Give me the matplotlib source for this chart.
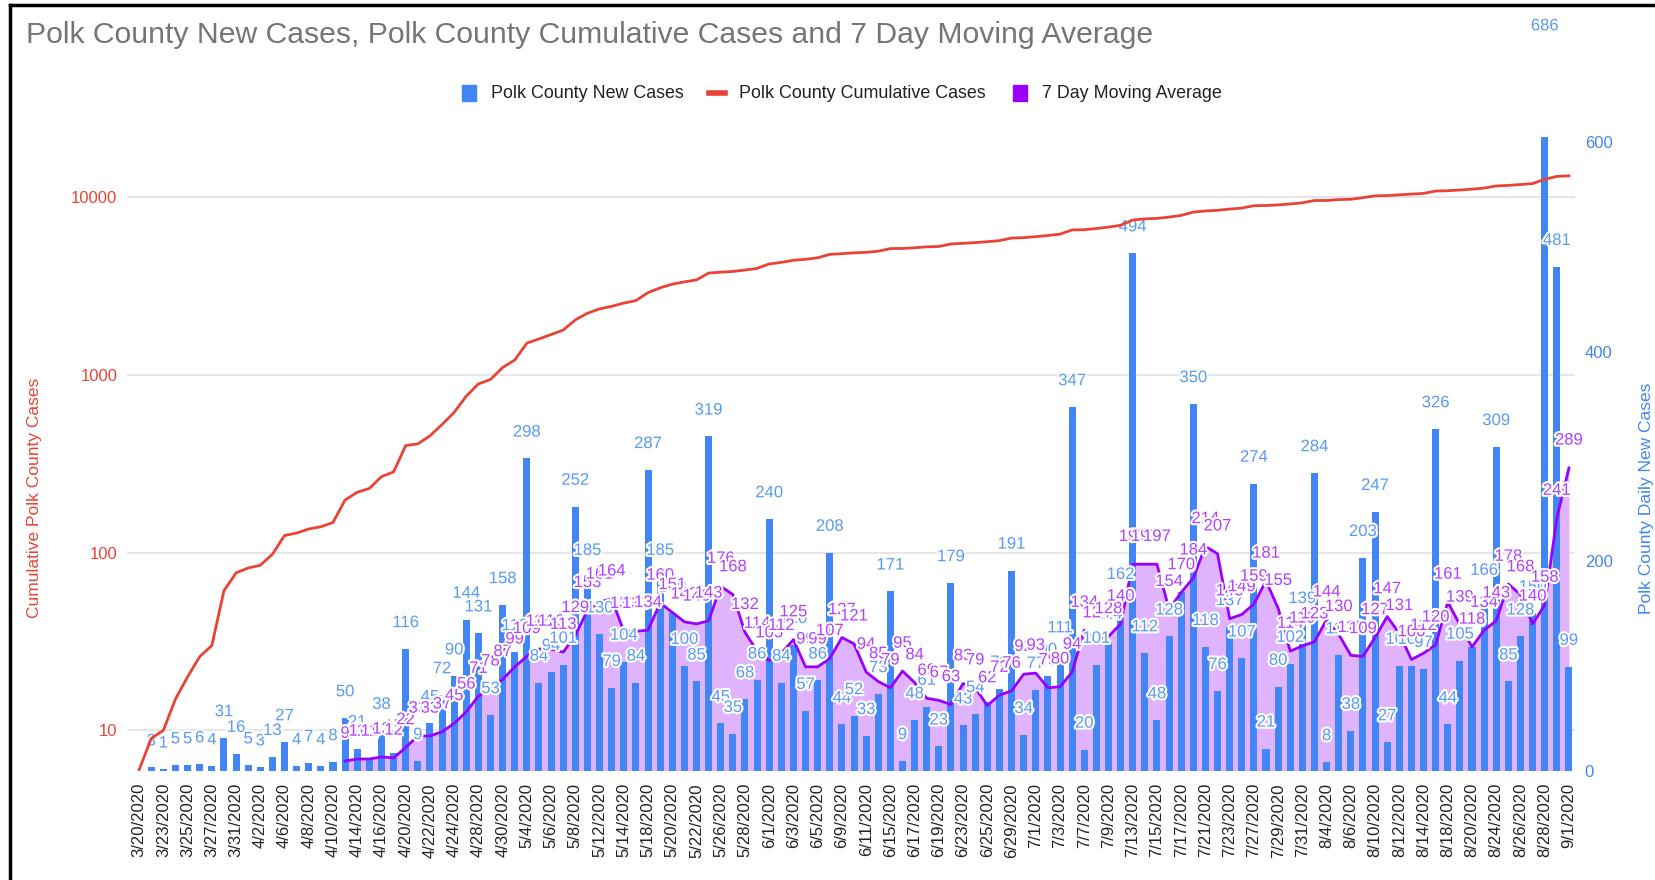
import numpy as np
import matplotlib
matplotlib.use('Agg')
import matplotlib.pyplot as plt
import matplotlib.patheffects as pe
from matplotlib.patches import Rectangle
from matplotlib.lines import Line2D
from matplotlib.ticker import NullLocator

plt.rcParams['font.family'] = ['Liberation Sans', 'DejaVu Sans']

# one tick label for every second reporting day
tick_labels = ['3/20/2020', '3/23/2020', '3/25/2020', '3/27/2020', '3/31/2020', '4/2/2020',
               '4/6/2020', '4/8/2020', '4/10/2020', '4/14/2020', '4/16/2020', '4/20/2020',
               '4/22/2020', '4/24/2020', '4/28/2020', '4/30/2020', '5/4/2020', '5/6/2020',
               '5/8/2020', '5/12/2020', '5/14/2020', '5/18/2020', '5/20/2020', '5/22/2020',
               '5/26/2020', '5/28/2020', '6/1/2020', '6/3/2020', '6/5/2020', '6/9/2020',
               '6/11/2020', '6/15/2020', '6/17/2020', '6/19/2020', '6/23/2020', '6/25/2020',
               '6/29/2020', '7/1/2020', '7/3/2020', '7/7/2020', '7/9/2020', '7/13/2020',
               '7/15/2020', '7/17/2020', '7/21/2020', '7/23/2020', '7/27/2020', '7/29/2020',
               '7/31/2020', '8/4/2020', '8/6/2020', '8/10/2020', '8/12/2020', '8/14/2020',
               '8/18/2020', '8/20/2020', '8/24/2020', '8/26/2020', '8/28/2020', '9/1/2020']

new_cases = [None, 3, 1, 5, 5, 6, 4, 31, 16, 5,
             3, 13, 27, 4, 7, 4, 8, 50, 21, 11,
             38, 17, 116, 9, 45, 72, 90, 144, 131, 53,
             158, 113, 298, 84, 94, 101, 252, 185, 130, 79,
             104, 84, 287, 185, 150, 100, 85, 319, 45, 35,
             68, 86, 240, 84, 120, 57, 86, 208, 44, 52,
             33, 73, 171, 9, 48, 61, 23, 179, 43, 54,
             65, 78, 191, 34, 77, 90, 111, 347, 20, 101,
             124, 162, 494, 112, 48, 128, 170, 350, 118, 76,
             137, 107, 274, 21, 80, 102, 139, 284, 8, 110,
             38, 203, 247, 27, 100, 100, 97, 326, 44, 105,
             118, 166, 309, 85, 128, 150, 686, 481, 99]

cumulative = [6, 9, 10, 15, 20, 26, 30, 61, 77, 82,
              85, 98, 125, 129, 136, 140, 148, 198, 219, 230,
              268, 285, 401, 410, 455, 527, 617, 761, 892, 945,
              1103, 1216, 1514, 1598, 1692, 1793, 2045, 2230, 2360, 2439,
              2543, 2627, 2914, 3099, 3249, 3349, 3434, 3753, 3798, 3833,
              3901, 3987, 4227, 4311, 4431, 4488, 4574, 4782, 4826, 4878,
              4911, 4984, 5155, 5164, 5212, 5273, 5296, 5475, 5518, 5572,
              5637, 5715, 5906, 5940, 6017, 6107, 6218, 6565, 6585, 6686,
              6810, 6972, 7466, 7578, 7626, 7754, 7924, 8274, 8392, 8468,
              8605, 8712, 8986, 9007, 9087, 9189, 9328, 9612, 9620, 9730,
              9768, 9971, 10218, 10245, 10345, 10445, 10542, 10868, 10912, 11017,
              11135, 11301, 11610, 11695, 11823, 11973, 12659, 13140, 13239]

# 7 day moving average starts on the 18th reporting day
ma_start = 17
moving_avg = [9, 11, 11, 13, 12, 22, 33, 33, 37, 45,
              56, 71, 78, 87, 99, 109, 116, 116, 113, 129,
              153, 161, 164, 133, 133, 134, 160, 151, 142, 140,
              143, 176, 168, 132, 114, 105, 112, 125, 99, 99,
              107, 127, 121, 94, 85, 79, 95, 84, 69, 67,
              63, 83, 79, 62, 72, 76, 92, 93, 79, 80,
              94, 134, 124, 128, 140, 197, 197, 197, 154, 170,
              184, 214, 207, 145, 149, 159, 181, 155, 114, 119,
              123, 144, 130, 110, 109, 127, 147, 131, 106, 112,
              120, 161, 139, 118, 134, 143, 178, 168, 140, 158,
              241, 289]

BLUE = '#4285f4'
RED = '#ea4335'
PURPLE = '#9900ff'
FILL = '#e0b3ff'

W, H = 1655, 880
fig = plt.figure(figsize=(W / 100, H / 100), dpi=100)
left, right, top, bottom = 127, 1575, 137, 770.5
ax = fig.add_axes([left / W, 1 - bottom / H, (right - left) / W, (bottom - top) / H])

x = np.arange(len(new_cases))
vals = np.array([np.nan if v is None else v for v in new_cases], dtype=float)
x_ma = np.arange(ma_start, ma_start + len(moving_avg))
ma = np.array(moving_avg, dtype=float)

ax.set_xlim(-1.0, len(x) - 0.5)
ax.set_ylim(0, 605)

# log gridlines of the left axis, drawn behind the bars
lo, hi = 5.94, 21900
for g in [10, 100, 1000, 10000]:
    fy = (np.log10(g) - np.log10(lo)) / (np.log10(hi) - np.log10(lo))
    ax.plot([0, 1], [fy, fy], transform=ax.transAxes, color='#e2e2e2', lw=1.2, zorder=0)

ax.fill_between(x_ma, 0, ma, color=FILL, lw=0, zorder=1)
ax.bar(x, np.nan_to_num(vals), width=0.58, color=BLUE, zorder=2)
ax.plot(x_ma, ma, color=PURPLE, lw=2, zorder=3)

halo = [pe.withStroke(linewidth=3, foreground='white')]
for xi, v in zip(x, vals):
    if np.isnan(v):
        continue
    ax.annotate(f'{int(v)}', (xi, v), xytext=(0, 19), textcoords='offset points',
                ha='center', va='center', fontsize=12, color='#5a9af5',
                path_effects=halo, zorder=6, annotation_clip=False)
for xi, v in zip(x_ma, ma):
    ax.annotate(f'{int(v)}', (xi, v), xytext=(0, 20), textcoords='offset points',
                ha='center', va='center', fontsize=12, color='#b340ff',
                path_effects=halo, zorder=7, annotation_clip=False)

ax.set_xticks(x[::2])
ax.set_xticklabels(tick_labels, rotation=90, fontsize=12, color='#222222')
ax.tick_params(axis='x', length=0, pad=9)

# cumulative on a log scale, left side
axc = ax.twinx()
axc.set_yscale('log')
axc.set_ylim(lo, hi)
axc.plot(x, cumulative, color=RED, lw=2, zorder=4)
axc.yaxis.set_minor_locator(NullLocator())
axc.set_yticks([10, 100, 1000, 10000])
axc.set_yticklabels(['10', '100', '1000', '10000'], color=RED, fontsize=12)
axc.yaxis.tick_left()
axc.tick_params(axis='y', length=0, pad=7)

ax.yaxis.tick_right()
ax.set_yticks([0, 200, 400, 600])
ax.set_yticklabels(['0', '200', '400', '600'], color=BLUE, fontsize=12)
ax.tick_params(axis='y', length=0, pad=7)

for a in (ax, axc):
    for s in a.spines.values():
        s.set_visible(False)

fig.text(35 / W, 1 - 498 / H, 'Cumulative Polk County Cases', rotation=90, color=RED,
         fontsize=12.5, ha='center', va='center')
fig.text(1646 / W, 1 - 498 / H, 'Polk County Daily New Cases', rotation=90, color=BLUE,
         fontsize=12.5, ha='center', va='center')

fig.text(26 / W, 1 - 35 / H, 'Polk County New Cases, Polk County Cumulative Cases and 7 Day Moving Average',
         color='#757575', fontsize=21.7, ha='left', va='center')

# legend drawn by hand
ly = 1 - 93 / H
fs_leg = 12.9
fig.patches.append(Rectangle(((469 - 7) / W, ly - 8 / H), 14 / W, 16 / H, color=BLUE, transform=fig.transFigure))
fig.text(491 / W, ly, 'Polk County New Cases', fontsize=fs_leg, color='#222222', va='center')
fig.lines.append(Line2D([709 / W, 725 / W], [ly, ly], color=RED, lw=4, transform=fig.transFigure))
fig.text(739 / W, ly, 'Polk County Cumulative Cases', fontsize=fs_leg, color='#222222', va='center')
fig.patches.append(Rectangle(((1020 - 7) / W, ly - 8 / H), 14 / W, 16 / H, color=PURPLE, transform=fig.transFigure))
fig.text(1042 / W, ly, '7 Day Moving Average', fontsize=fs_leg, color='#222222', va='center')

# screenshot frame
fig.lines.append(Line2D([10 / W, 1], [1 - 5 / H, 1 - 5 / H], color='black', lw=2.5, transform=fig.transFigure))
fig.lines.append(Line2D([10 / W, 10 / W], [0, 1 - 5 / H], color='black', lw=2.5, transform=fig.transFigure))

fig.savefig('out.png', dpi=100)
